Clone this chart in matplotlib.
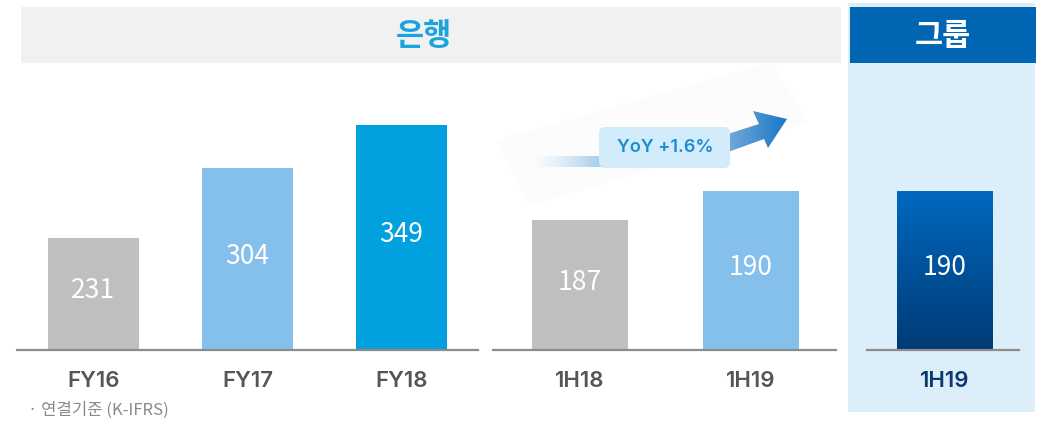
import numpy as np
import matplotlib
matplotlib.use("Agg")
from matplotlib import pyplot as plt
from matplotlib.patches import Rectangle, FancyBboxPatch, Polygon

plt.rcParams['font.family'] = ['Noto Sans CJK KR', 'DejaVu Sans']

# data
bank_years = ['FY16', 'FY17', 'FY18']
bank_year_values = [231, 304, 349]
bank_half = ['1H18', '1H19']
bank_half_values = [187, 190]
group_half = ['1H19']
group_half_values = [190]
yoy_text = 'YoY +1.6%'
bank_title = '은행'
group_title = '그룹'
footnote = '· 연결기준 (K-IFRS)'

W, H = 1047, 421
fig = plt.figure(figsize=(W / 100, H / 100), dpi=100)


def box(x0, y0, x1, y1):  # pixel box (top-left origin) -> figure fraction
    return [x0 / W, 1 - y1 / H, (x1 - x0) / W, (y1 - y0) / H]


# background layer in pixel coordinates
bg = fig.add_axes([0, 0, 1, 1], zorder=0)
bg.set_xlim(0, W)
bg.set_ylim(H, 0)
bg.axis('off')

bg.add_patch(Rectangle((21, 7), 820, 56, color='#f1f1f1', lw=0))
bg.text(424, 36, bank_title, color='#1aa3dc', fontsize=22, fontweight='bold', ha='center', va='center')
bg.add_patch(Rectangle((848, 3), 187, 409, color='#ddeefb', lw=0))
bg.add_patch(Rectangle((850, 7), 186, 56, color='#0066b3', lw=0))
bg.text(943, 36, group_title, color='white', fontsize=22, fontweight='bold', ha='center', va='center')
bg.text(28, 410, footnote, color='#8a8a8a', fontsize=12, ha='left', va='center')

# faint shadow behind the arrow
bg.add_patch(Polygon([(497, 140), (772, 62), (808, 122), (528, 206)], closed=True, color='#fcfcfc', lw=0))

# faded tail on the left of the label box
tail = np.zeros((1, 256, 4))
tail[..., 0], tail[..., 1], tail[..., 2] = 0.62, 0.80, 0.93
tail[0, :, 3] = np.linspace(0, 1, 256) ** 1.5
bg.imshow(tail, extent=(528, 602, 167, 156), aspect='auto', zorder=1)

# arrow body with a horizontal gradient
arrow = Polygon([(728, 134), (759, 124), (753, 111), (787, 119), (768, 148), (764, 139), (728, 152)],
                closed=True, facecolor='none', edgecolor='none')
bg.add_patch(arrow)
grad = np.zeros((1, 256, 3))
c0 = np.array([0.45, 0.66, 0.85])
c1 = np.array([0.10, 0.47, 0.78])
grad[0] = c0 + (c1 - c0) * np.linspace(0, 1, 256)[:, None]
im = bg.imshow(grad, extent=(728, 787, 152, 111), aspect='auto', zorder=2)
im.set_clip_path(arrow)
bg.set_xlim(0, W)
bg.set_ylim(H, 0)

bg.add_patch(FancyBboxPatch((599, 127), 131, 41, boxstyle='round,pad=0,rounding_size=6',
                            facecolor='#d2ecfb', edgecolor='none', zorder=3))
bg.text(665, 148, yoy_text, color='#1a8ccf', fontsize=13, fontweight=600,
        family=['Inter', 'Noto Sans CJK KR'], ha='center', va='center', zorder=4)


def bar_panel(x0, x1, cats, vals, colors, ylim, spacing, width, first_center, label_color):
    ax = fig.add_axes(box(x0, 100, x1, 350), zorder=2)
    ax.patch.set_alpha(0)
    ax.axis('off')
    lo = -(first_center - x0) / spacing
    ax.set_xlim(lo, lo + (x1 - x0) / spacing)
    ax.set_ylim(*ylim)
    pos = np.arange(len(vals))
    bars = ax.bar(pos, vals, width=width, bottom=0, color=colors, lw=0)
    ax.set_ylim(*ylim)
    ax.axhline(ylim[0], color='#8c8c8c', lw=1.6, clip_on=False)
    for i, (c, v) in enumerate(zip(cats, vals)):
        ax.text(i, (ylim[0] + v) / 2 + (ylim[1] - ylim[0]) * 0.012, str(v), color='white', fontsize=19,
                ha='center', va='center', zorder=5)
        ax.annotate(c, xy=(i, 0), xycoords=('data', 'axes fraction'), xytext=(0, -22),
                    textcoords='offset points', ha='center', va='center',
                    fontsize=16, fontweight=600, family=['Inter', 'Noto Sans CJK KR'],
                    color=label_color)
    return ax, bars


bar_panel(17, 478, bank_years, bank_year_values, ['#c0bebf', '#85c0ec', '#00a1de'],
          (114, 375), 154, 0.59, 93.5, '#555555')
bar_panel(493, 836, bank_half, bank_half_values, ['#c0bebf', '#85c0ec'],
          (173.6, 199.45), 171, 0.56, 580, '#555555')
ax3, bars3 = bar_panel(867, 1019, group_half, group_half_values, ['none'],
                       (173.6, 199.45), 171, 0.556, 944.5, '#0d3a6e')

# vertical gradient for the group bar
b = bars3[0]
g = np.zeros((256, 1, 3))
top = np.array([0.0, 0.41, 0.75])
bottom = np.array([0.0, 0.23, 0.46])
g[:, 0] = top + (bottom - top) * np.linspace(0, 1, 256)[:, None]
gi = ax3.imshow(g, extent=(b.get_x(), b.get_x() + b.get_width(), 173.6, b.get_height()),
                aspect='auto', zorder=1)
gi.set_clip_path(b)
ax3.set_xlim(-(944.5 - 867) / 171, -(944.5 - 867) / 171 + (1019 - 867) / 171)
ax3.set_ylim(173.6, 199.45)

fig.savefig('out.png', dpi=100)
